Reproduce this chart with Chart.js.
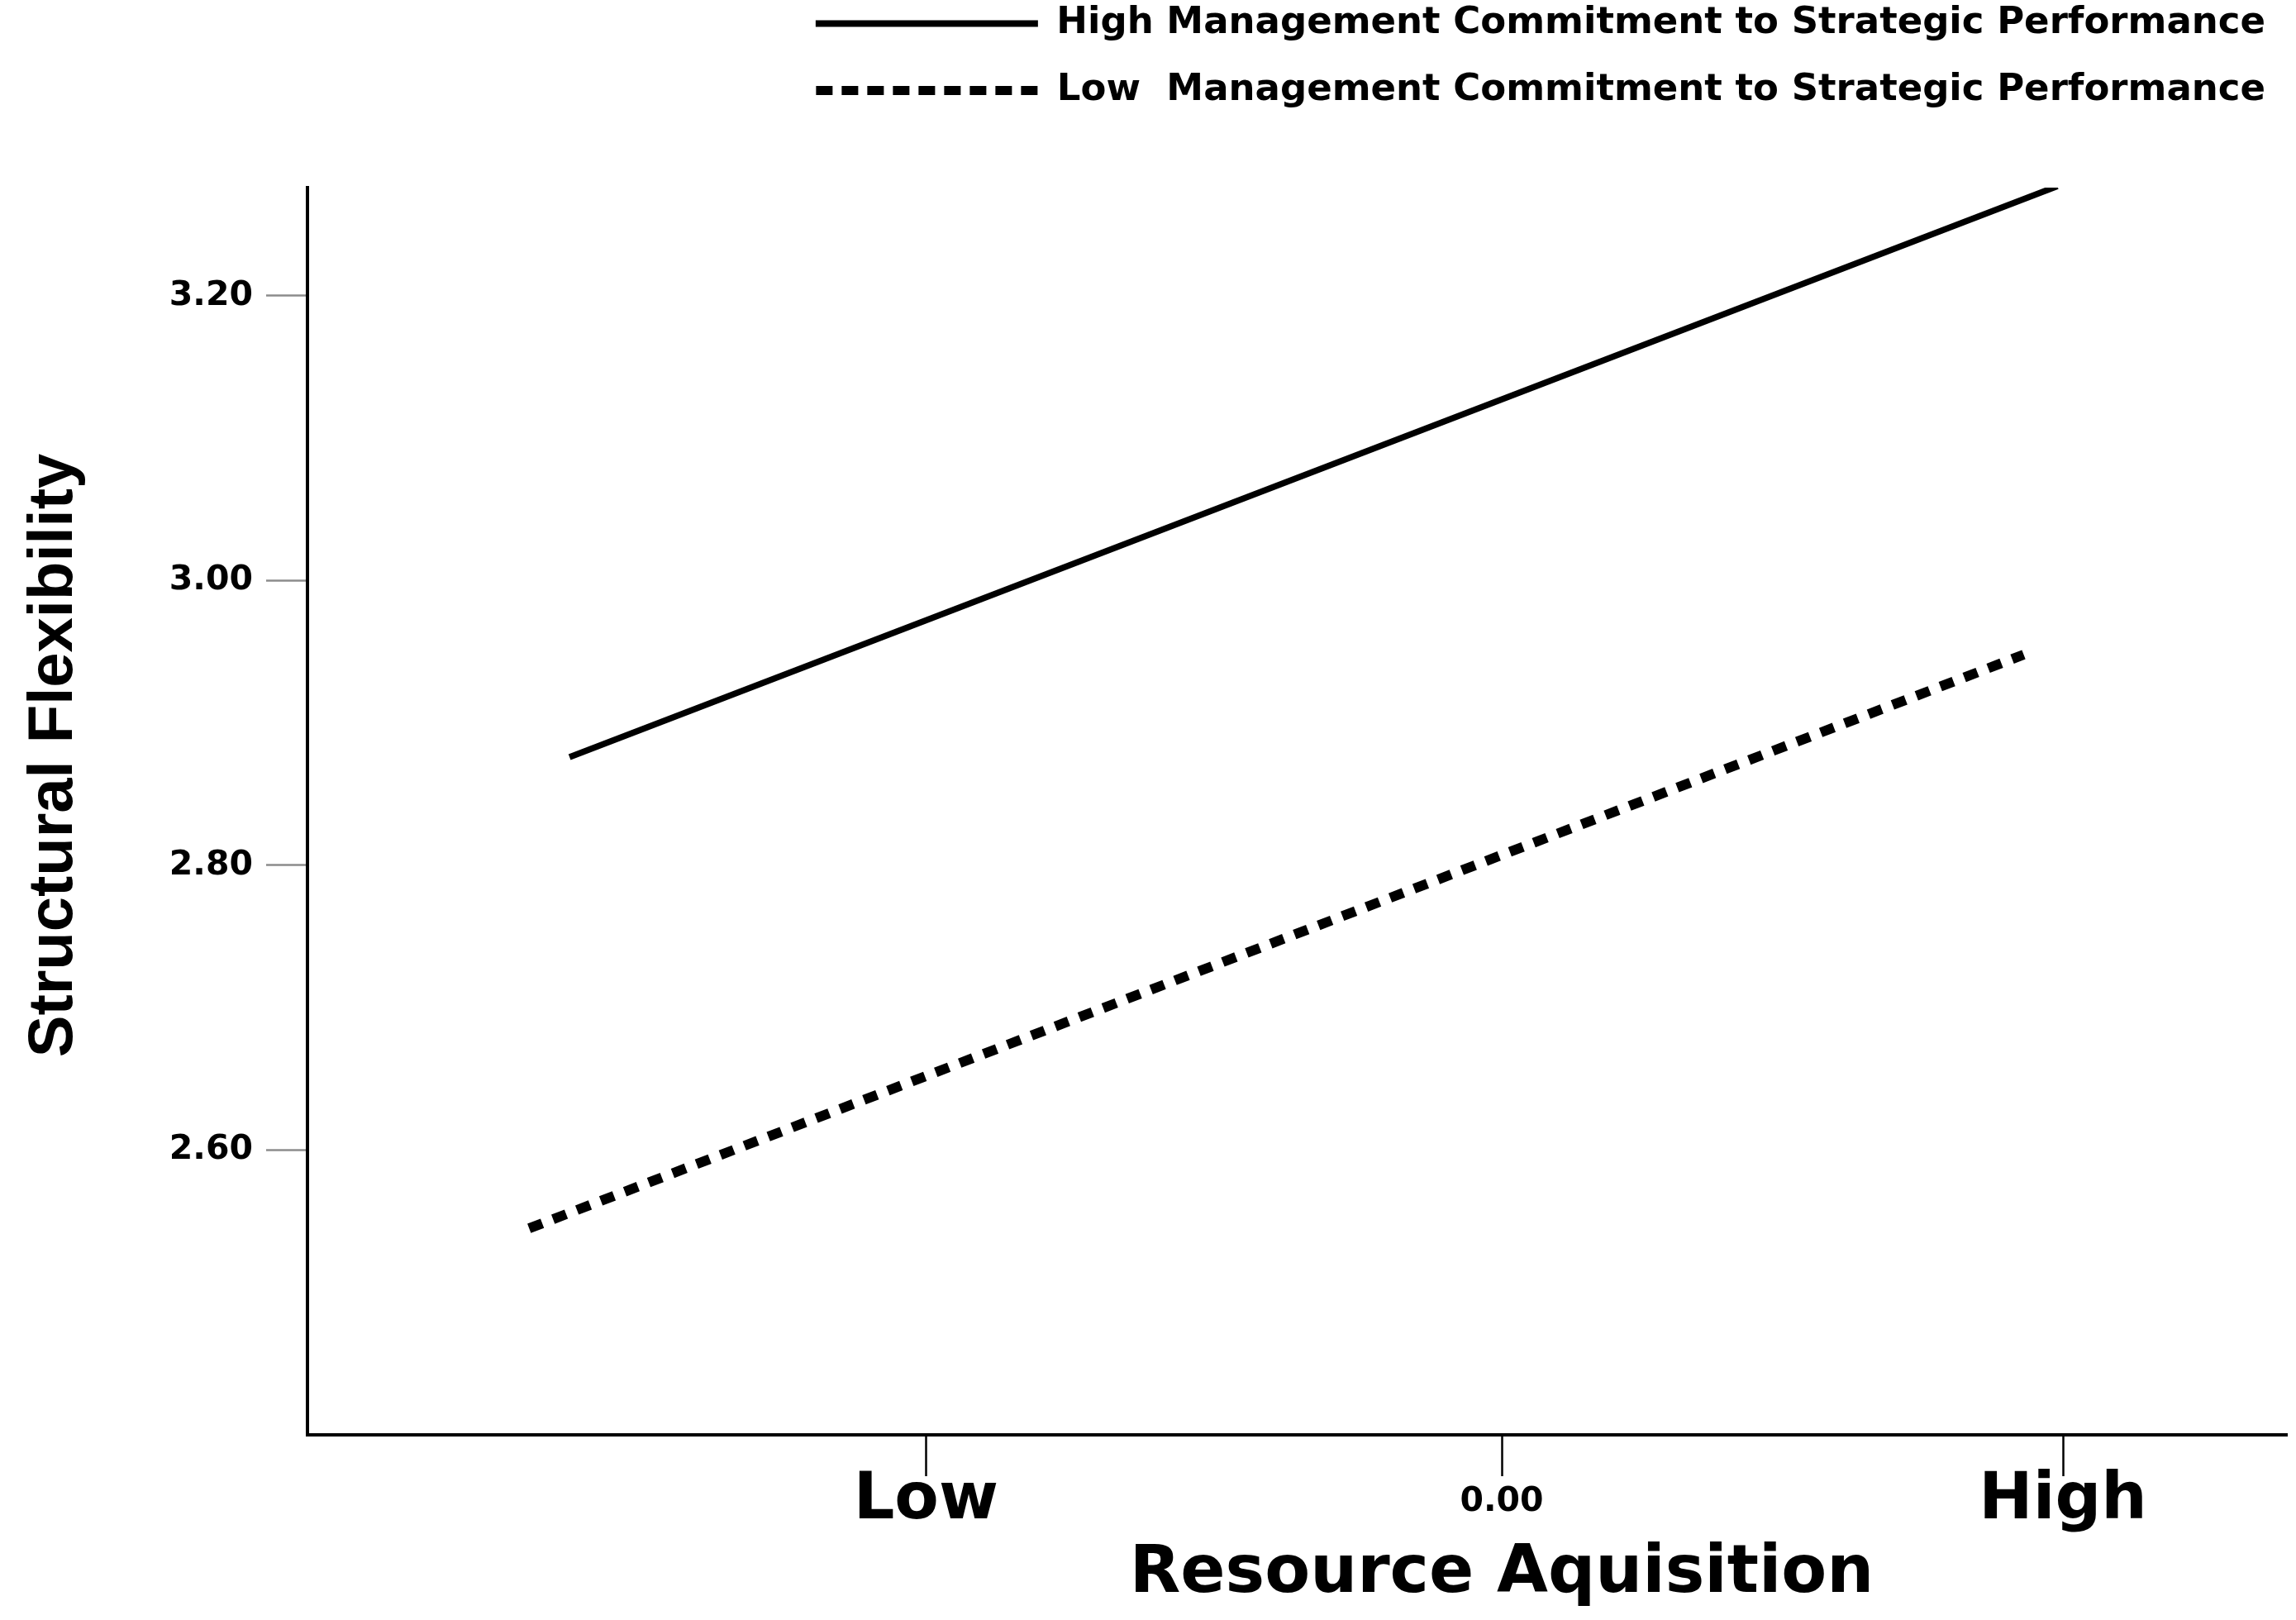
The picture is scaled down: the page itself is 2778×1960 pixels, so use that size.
<!DOCTYPE html>
<html>
<head>
<meta charset="utf-8">
<script src="https://cdn.jsdelivr.net/npm/chart.js@4.4.1/dist/chart.umd.min.js"></script>
<style>
  html, body { margin: 0; padding: 0; background: #fff; }
  #wrap { width: 2778px; height: 1960px; }
</style>
</head>
<body>
<div id="wrap"><canvas id="c" width="2778" height="1960"></canvas></div>
<script>
// ---- data ----
const seriesLabels = [
  'High Management Commitment to Strategic Performance',
  'Low  Management Commitment to Strategic Performance'
];
const highX = [-1.661, 0.990];
const highY = [2.876, 3.277];
const lowX = [-1.733, 0.930];
const lowY = [2.545, 2.948];

const xTickValues = [-1.026, 0, 1];
const xTickLabels = ['Low', '0.00', 'High'];
const yTickValues = [2.6, 2.8, 3.0, 3.2];

const xTitle = 'Resource Aquisition';
const yTitle = 'Structural Flexibility';

const xMin = -2.128, xMax = 1.399;
const yMin = 2.40, yMax = 3.276;

// ---- styling ----
const FONT = 'DejaVu Sans';
Chart.defaults.font.family = FONT;
Chart.defaults.font.weight = 'bold';
Chart.defaults.color = '#000';

const legendLineWidths = [8, 11];
const legendDashes = [[], [20, 11]];

const toPoints = (xs, ys) => xs.map((x, i) => ({ x: x, y: ys[i] }));

const legendTweak = {
  id: 'legendTweak',
  beforeInit(chart) {
    const lg = chart.legend;
    if (!lg) return;
    const origFit = lg.fit;
    lg.fit = function () { origFit.call(this); this.height += 55; };
  },
  afterLayout(chart) {
    const lg = chart.legend;
    if (!lg) return;
    lg.top -= 30; lg.bottom -= 30;
    lg.left += 10; lg.right += 10;
  }
};

const axisTitles = {
  id: 'axisTitles',
  afterDraw(chart) {
    const { ctx, chartArea, scales } = chart;
    ctx.save();
    ctx.fillStyle = '#000';
    ctx.textAlign = 'center';
    ctx.textBaseline = 'alphabetic';
    ctx.font = 'bold 80px "' + FONT + '"';
    ctx.fillText(xTitle, scales.x.getPixelForValue(0), chartArea.bottom + 190);
    ctx.translate(66, chartArea.top + 687);
    ctx.rotate(-Math.PI / 2);
    ctx.font = 'bold 76px "Liberation Sans"';
    ctx.textBaseline = 'middle';
    ctx.fillText(yTitle, 0, 0);
    ctx.restore();
  }
};

new Chart(document.getElementById('c'), {
  type: 'line',
  data: {
    datasets: [
      {
        label: seriesLabels[0],
        data: toPoints(highX, highY),
        borderColor: '#000',
        borderWidth: 7.5,
        pointRadius: 0,
        tension: 0,
        fill: false
      },
      {
        label: seriesLabels[1],
        data: toPoints(lowX, lowY),
        borderColor: '#000',
        borderWidth: 12,
        borderDash: [17, 14],
        borderCapStyle: 'butt',
        pointRadius: 0,
        tension: 0,
        fill: false
      }
    ]
  },
  options: {
    responsive: false,
    animation: false,
    devicePixelRatio: 1,
    layout: { padding: { left: 0, right: 11, top: 0, bottom: 0 } },
    plugins: {
      tooltip: { enabled: false },
      title: { display: false },
      legend: {
        display: true,
        position: 'top',
        align: 'end',
        labels: {
          usePointStyle: true,
          pointStyle: 'line',
          pointStyleWidth: 269,
          padding: 36,
          color: '#000',
          font: { family: FONT, size: 45, weight: 'bold' },
          generateLabels: (chart) => chart.data.datasets.map((ds, i) => ({
            text: ds.label,
            fillStyle: 'rgba(0,0,0,0)',
            strokeStyle: '#000',
            fontColor: '#000',
            lineWidth: legendLineWidths[i],
            lineDash: legendDashes[i],
            lineCap: 'butt',
            pointStyle: 'line',
            hidden: false,
            datasetIndex: i
          }))
        }
      }
    },
    scales: {
      x: {
        type: 'linear',
        min: xMin,
        max: xMax,
        afterBuildTicks: (scale) => { scale.ticks = xTickValues.map(v => ({ value: v })); },
        afterFit: (scale) => { scale.height = 224; },
        border: { display: true, color: '#000', width: 4 },
        grid: {
          drawOnChartArea: false,
          drawTicks: true,
          tickLength: 50,
          tickColor: '#000',
          tickWidth: 2.5
        },
        ticks: {
          autoSkip: false,
          maxRotation: 0,
          minRotation: 0,
          crossAlign: 'near',
          padding: -16,
          color: '#000',
          callback: (value, index) => xTickLabels[index],
          font: (ctx) => (ctx.index === 1
            ? { family: FONT, size: 41, weight: 'bold', lineHeight: 94 / 41 }
            : { family: FONT, size: 78, weight: 'bold', lineHeight: 94 / 78 })
        },
        title: { display: false }
      },
      y: {
        type: 'linear',
        min: yMin,
        max: yMax,
        afterBuildTicks: (scale) => { scale.ticks = yTickValues.map(v => ({ value: v })); },
        afterFit: (scale) => { scale.width = 372; },
        border: { display: true, color: '#000', width: 4 },
        grid: {
          drawOnChartArea: false,
          drawTicks: true,
          tickLength: 50,
          tickColor: '#8c8c8c',
          tickWidth: 2.5
        },
        ticks: {
          padding: 16,
          color: '#000',
          font: { family: FONT, size: 41, weight: 'bold' },
          callback: (value) => Number(value).toFixed(2)
        },
        title: { display: false }
      }
    }
  },
  plugins: [legendTweak, axisTitles]
});
</script>
</body>
</html>
